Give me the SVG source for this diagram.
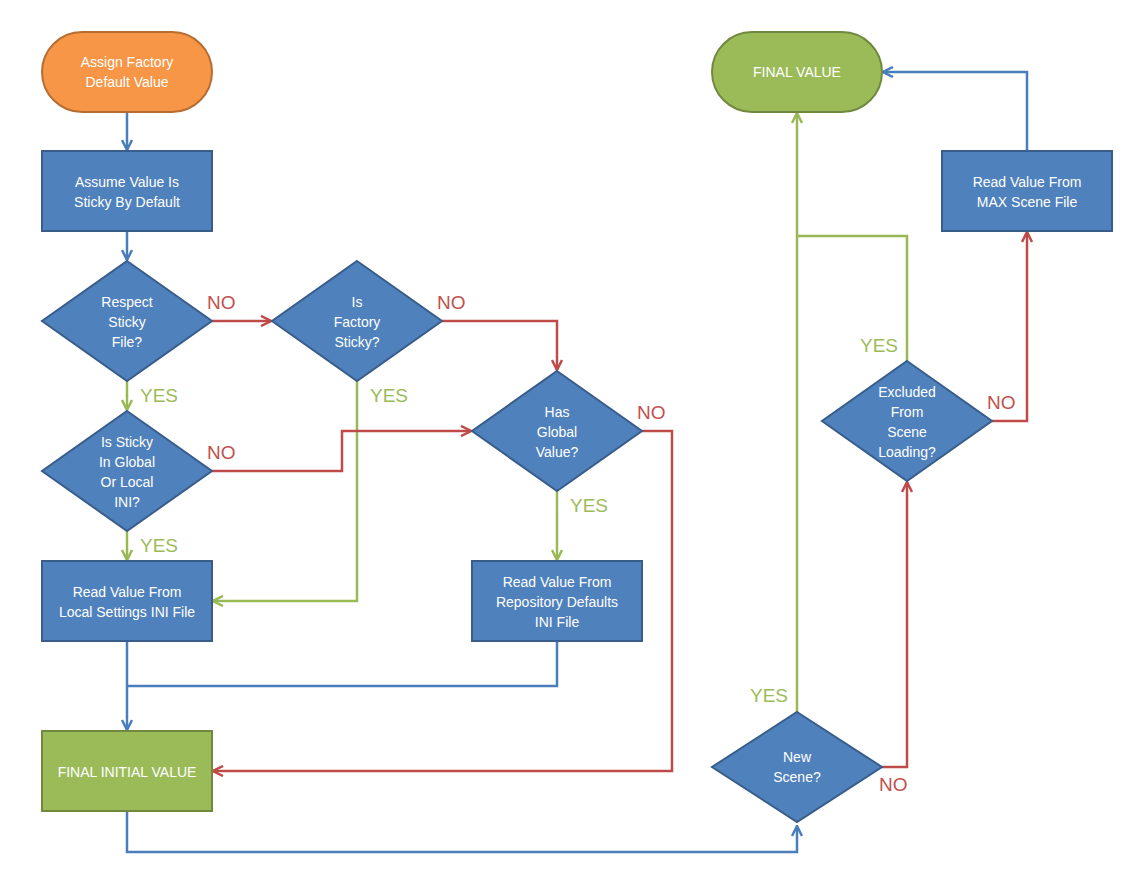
<svg xmlns="http://www.w3.org/2000/svg" width="1147" height="877" viewBox="0 0 1147 877">
<style>
.b{fill:#4F81BD;stroke:#385D8A;stroke-width:2}
.g{fill:#9BBB59;stroke:#71893F;stroke-width:2}
.o{fill:#F79646;stroke:#B66D31;stroke-width:2}
.t{font-family:"Liberation Sans",Arial,sans-serif;font-size:14px;fill:#fff;text-anchor:middle}
.l{font-family:"Liberation Sans",Arial,sans-serif;font-size:19px}
.cb{fill:none;stroke:#4A7EBB;stroke-width:2.5}
.cr{fill:none;stroke:#BE4B48;stroke-width:2.5}
.cg{fill:none;stroke:#98B954;stroke-width:2.5}
</style>
<defs>
<marker id="ab" viewBox="0 0 10 10" refX="9" refY="5" markerWidth="5" markerHeight="5" orient="auto" markerUnits="strokeWidth"><polyline points="1,1 9,5 1,9" fill="none" stroke="#4A7EBB" stroke-width="2"/></marker>
<marker id="ar" viewBox="0 0 10 10" refX="9" refY="5" markerWidth="5" markerHeight="5" orient="auto" markerUnits="strokeWidth"><polyline points="1,1 9,5 1,9" fill="none" stroke="#BE4B48" stroke-width="2"/></marker>
<marker id="ag" viewBox="0 0 10 10" refX="9" refY="5" markerWidth="5" markerHeight="5" orient="auto" markerUnits="strokeWidth"><polyline points="1,1 9,5 1,9" fill="none" stroke="#98B954" stroke-width="2"/></marker>
</defs>
<rect width="1147" height="877" fill="#fff"/>
<g id="connectors">
<path class="cb" d="M127,112V150" marker-end="url(#ab)"/>
<path class="cb" d="M127,231V260" marker-end="url(#ab)"/>
<path class="cr" d="M212,321H271" marker-end="url(#ar)"/>
<path class="cg" d="M127,381V410" marker-end="url(#ag)"/>
<path class="cr" d="M442,321H557V370" marker-end="url(#ar)"/>
<path class="cg" d="M357,381V601H213" marker-end="url(#ag)"/>
<path class="cr" d="M212,471H342V431H471" marker-end="url(#ar)"/>
<path class="cg" d="M127,531V560" marker-end="url(#ag)"/>
<path class="cg" d="M557,491V560" marker-end="url(#ag)"/>
<path class="cr" d="M642,431H672V771H213" marker-end="url(#ar)"/>
<path class="cb" d="M127,641V730" marker-end="url(#ab)"/>
<path class="cb" d="M557,641V686H127"/>
<path class="cb" d="M127,811V852H797V826" marker-end="url(#ab)"/>
<path class="cg" d="M797,712V113" marker-end="url(#ag)"/>
<path class="cr" d="M882,767H907V482" marker-end="url(#ar)"/>
<path class="cg" d="M907,361V236H797"/>
<path class="cr" d="M992,421H1027V232" marker-end="url(#ar)"/>
<path class="cb" d="M1027,151V72H883" marker-end="url(#ab)"/>
</g>
<g class="l" fill="#C0504D">
<text x="207" y="309">NO</text><text x="437" y="309">NO</text><text x="207" y="459">NO</text><text x="637" y="419">NO</text><text x="879" y="791">NO</text><text x="987" y="409">NO</text>
</g>
<g class="l" fill="#9BBB59">
<text x="140" y="402">YES</text><text x="370" y="402">YES</text><text x="140" y="552">YES</text><text x="570" y="512">YES</text><text x="750" y="702">YES</text><text x="860" y="352">YES</text>
</g>
<g id="start"><rect class="o" x="42" y="32" width="170" height="80" rx="40"/><text class="t" x="127" y="67">Assign Factory</text><text class="t" x="127" y="87">Default Value</text></g>
<g id="assume"><rect class="b" x="42" y="151" width="170" height="80"/><text class="t" x="127" y="187">Assume Value Is</text><text class="t" x="127" y="207">Sticky By Default</text></g>
<g id="respect"><polygon class="b" points="127,261 212,321 127,381 42,321"/><text class="t" x="127" y="307">Respect</text><text class="t" x="127" y="327">Sticky</text><text class="t" x="127" y="347">File?</text></g>
<g id="factory"><polygon class="b" points="357,261 442,321 357,381 272,321"/><text class="t" x="357" y="307">Is</text><text class="t" x="357" y="327">Factory</text><text class="t" x="357" y="347">Sticky?</text></g>
<g id="stickyini"><polygon class="b" points="127,411 212,471 127,531 42,471"/><text class="t" x="127" y="447">Is Sticky</text><text class="t" x="127" y="467">In Global</text><text class="t" x="127" y="487">Or Local</text><text class="t" x="127" y="507">INI?</text></g>
<g id="global"><polygon class="b" points="557,371 642,431 557,491 472,431"/><text class="t" x="557" y="417">Has</text><text class="t" x="557" y="437">Global</text><text class="t" x="557" y="457">Value?</text></g>
<g id="local"><rect class="b" x="42" y="561" width="170" height="80"/><text class="t" x="127" y="597">Read Value From</text><text class="t" x="127" y="617">Local Settings INI File</text></g>
<g id="repo"><rect class="b" x="472" y="561" width="170" height="80"/><text class="t" x="557" y="587">Read Value From</text><text class="t" x="557" y="607">Repository Defaults</text><text class="t" x="557" y="627">INI File</text></g>
<g id="finalinit"><rect class="g" x="42" y="731" width="170" height="80"/><text class="t" x="127" y="777">FINAL INITIAL VALUE</text></g>
<g id="newscene"><polygon class="b" points="797,712 882,767 797,822 712,767"/><text class="t" x="797" y="762">New</text><text class="t" x="797" y="782">Scene?</text></g>
<g id="excluded"><polygon class="b" points="907,361 992,421 907,481 822,421"/><text class="t" x="907" y="397">Excluded</text><text class="t" x="907" y="417">From</text><text class="t" x="907" y="437">Scene</text><text class="t" x="907" y="457">Loading?</text></g>
<g id="max"><rect class="b" x="942" y="151" width="170" height="80"/><text class="t" x="1027" y="187">Read Value From</text><text class="t" x="1027" y="207">MAX Scene File</text></g>
<g id="final"><rect class="g" x="712" y="32" width="170" height="80" rx="40"/><text class="t" x="797" y="77">FINAL VALUE</text></g>
</svg>
